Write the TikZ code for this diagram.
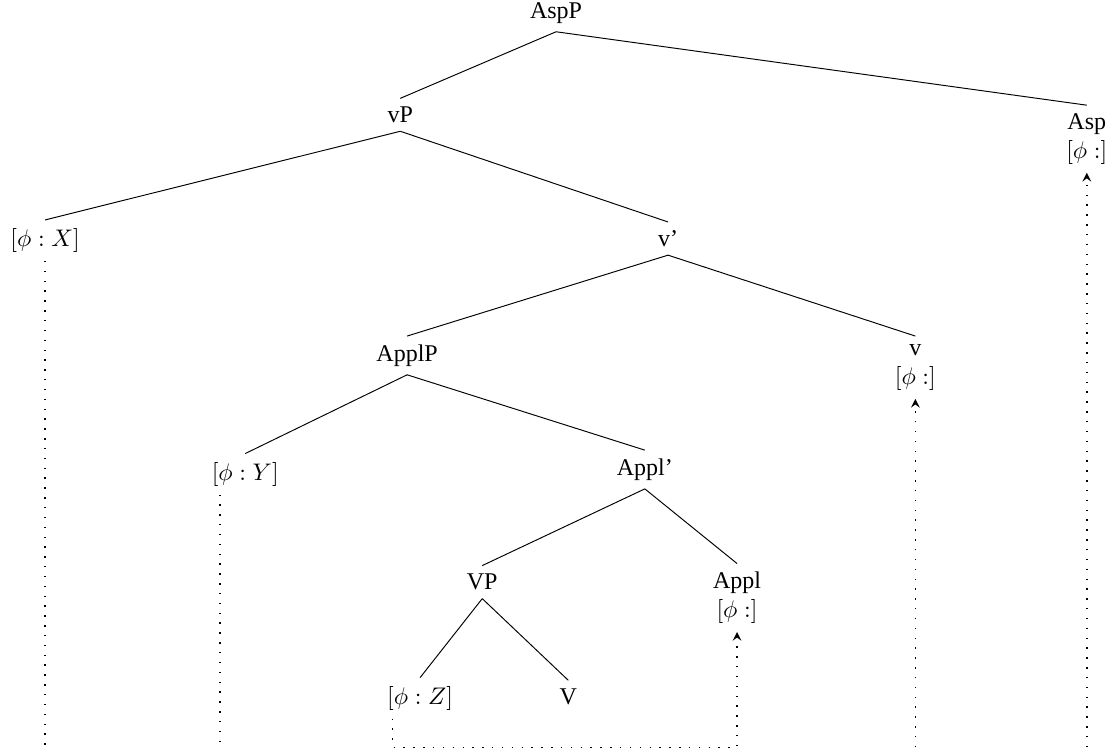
\documentclass[tikz,border=0pt]{standalone}
\usepackage{fontspec}
\setmainfont{Liberation Serif}
\usepackage{amssymb}
\usetikzlibrary{arrows}

\tikzset{
  lbl/.style={anchor=north,align=center},
  trace/.style={semithick,dash pattern=on \pgflinewidth off 3.5pt},
}

\begin{document}
\begin{tikzpicture}
            \useasboundingbox (0,0) rectangle (16.25,10.94);
            \coordinate (floor) at (0,0);

            \node[lbl] (aspp) at (8.14,11.03) {AspP};

            \node[lbl] (vp) at (5.86,9.50) {vP};
            \node[lbl] (asp) at (15.91,9.40) {Asp\\$[\phi :]$};

            \node[lbl] (phix) at (0.66,7.72) {$[\phi : X]$};
            \node[lbl] (vbar) at (9.78,7.69) {v'};

            \node[lbl] (applp) at (5.96,6.02) {ApplP};
            \node[lbl] (v) at (13.40,6.02) {v\\$[\phi :]$};

            \node[lbl] (phiy) at (3.59,4.30) {$[\phi : Y]$};
            \node[lbl] (applbar) at (9.44,4.35) {Appl'};

            \node[lbl] (bigvp) at (7.06,2.66) {VP};
            \node[lbl] (appl) at (10.79,2.69) {Appl\\$[\phi :]$};

            \node[lbl] (phiz) at (6.15,1.02) {$[\phi : Z]$};
            \node[lbl] (verb) at (8.32,0.98) {V};

            \path (aspp.south) edge (vp.north);
            \path (aspp.south) edge (asp.north);
            \path (vp.south) edge (phix.north);
            \path (vp.south) edge (vbar.north);
            \path (vbar.south) edge (applp.north);
            \path (vbar.south) edge (v.north);
            \path (applp.south) edge (phiy.north);
            \path (applp.south) edge (applbar.north);
            \path (applbar.south) edge (bigvp.north);
            \path (applbar.south) edge (appl.north);
            \path (bigvp.south) edge (phiz.north);
            \path (bigvp.south) edge (verb.north);

            % movement traces
            \draw[trace] (phix.south) -- (phix.south |- floor);
            \draw[trace] ([xshift=-0.37cm]phiy.south) -- ([xshift=-0.37cm]phiy.south |- floor);
            \draw[trace,-stealth] ([xshift=-0.4cm]phiz.south) -- ++(0,-0.42) -| (appl.south);
            \draw[trace,-stealth] (v.south |- floor) -- (v.south);
            \draw[trace,-stealth] (asp.south |- floor) -- (asp.south);
        \end{tikzpicture}
\end{document}
